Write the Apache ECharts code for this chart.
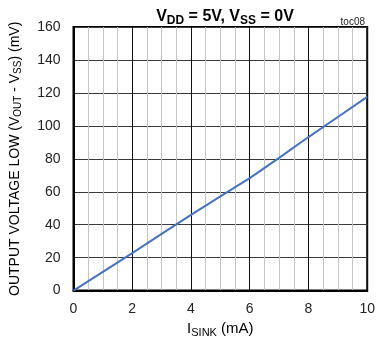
<!DOCTYPE html>
<html>
<head>
<meta charset="utf-8">
<script src="https://cdn.jsdelivr.net/npm/echarts@6/dist/echarts.min.js"></script>
<style>
  html, body { margin: 0; padding: 0; background: #fff; }
  #chart { width: 378px; height: 343px; }
</style>
</head>
<body>
<div id="chart"></div>
<script>
// Sink current (mA) and output low voltage (mV)
const sinkCurrent = [0, 1, 2, 3, 4, 5, 6, 7, 8, 9, 10];
const outputLow   = [0, 11.4, 22.8, 34.4, 46.0, 57.2, 68.3, 80.6, 93.2, 105.4, 117.6];

const xTicks = { min: 0, max: 10, step: 2 };
const yTicks = { min: 0, max: 160, step: 20 };

const FONT = '"Liberation Sans", Arial, sans-serif';

const chart = echarts.init(document.getElementById('chart'), null, { renderer: 'canvas' });

chart.setOption({
  animation: false,
  backgroundColor: '#fff',
  textStyle: { fontFamily: FONT },
  title: [{
    text: '{t|V}{s|DD}{t| = 5V, V}{s|SS}{t| = 0V}',
    left: 220, top: 2, textAlign: 'center',
    textStyle: {
      rich: {
        t: { fontFamily: FONT, fontSize: 16, fontWeight: 'bold', color: '#000', lineHeight: 20 },
        s: { fontFamily: FONT, fontSize: 12, fontWeight: 'bold', color: '#000', padding: [8, 0, 0, 0] }
      }
    }
  }, {
    text: 'toc08',
    right: 8, top: 12,
    textStyle: { fontFamily: FONT, fontSize: 10, fontWeight: 'normal', color: '#222' }
  }],
  grid: {
    left: 69, right: 8, top: 27, bottom: 52,
    show: true, borderColor: '#000', borderWidth: 2, containLabel: false
  },
  xAxis: {
    type: 'value',
    min: xTicks.min, max: xTicks.max, interval: xTicks.step,
    name: '{t|I}{s|SINK}{t| (mA)}',
    nameLocation: 'middle', nameGap: 28,
    nameTextStyle: {
      rich: {
        t: { fontFamily: FONT, fontSize: 15, color: '#000' },
        s: { fontFamily: FONT, fontSize: 11, color: '#000', padding: [7, 0, 0, 0] }
      }
    },
    axisLine: { show: true, lineStyle: { color: '#000', width: 2 } },
    axisTick: { show: false },
    axisLabel: { fontFamily: FONT, fontSize: 14, color: '#222', margin: 12 },
    splitLine: { show: true, lineStyle: { color: '#111', width: 1 } },
    minorTick: { show: false, splitNumber: 4 },
    minorSplitLine: { show: true, lineStyle: { color: '#c4c4c4', width: 1 } }
  },
  yAxis: {
    type: 'value',
    min: yTicks.min, max: yTicks.max, interval: yTicks.step,
    name: '{t|OUTPUT VOLTAGE LOW (V}{s|OUT}{t| - V}{s|SS}{t|) (mV)}',
    nameLocation: 'middle', nameGap: 50, nameRotate: 90,
    nameTextStyle: {
      rich: {
        t: { fontFamily: FONT, fontSize: 14, color: '#000' },
        s: { fontFamily: FONT, fontSize: 10, color: '#000', padding: [7, 0, 0, 0] }
      }
    },
    axisLine: { show: true, lineStyle: { color: '#000', width: 2 } },
    axisTick: { show: false },
    axisLabel: { fontFamily: FONT, fontSize: 14, color: '#222', margin: 13 },
    splitLine: { show: true, lineStyle: { color: '#3a3a3a', width: 1 } }
  },
  series: [{
    type: 'line',
    data: sinkCurrent.map((x, i) => [x, outputLow[i]]),
    showSymbol: false,
    smooth: false,
    lineStyle: { color: '#4472C4', width: 2 },
    z: 5
  }]
});
</script>
</body>
</html>
